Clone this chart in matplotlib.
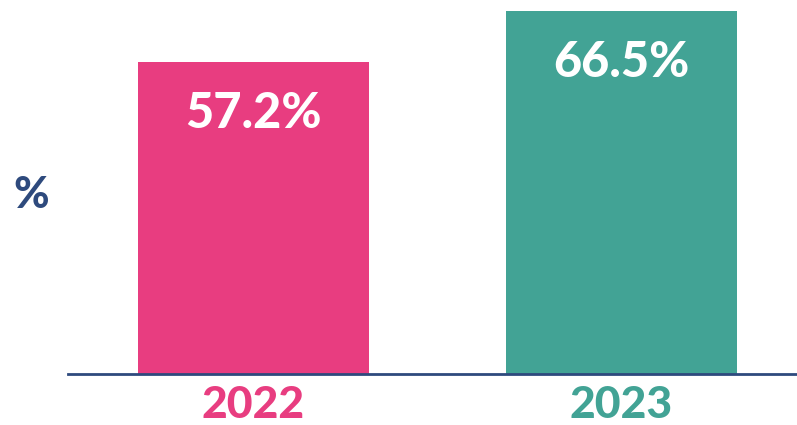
import matplotlib
matplotlib.use("Agg")
import matplotlib.pyplot as plt

categories = ["2022", "2023"]
values = [57.2, 66.5]
labels = ["57.2%", "66.5%"]
colors = ["#E83D80", "#42A395"]
navy = "#2E4A7D"

plt.rcParams['font.family'] = ['Lato', 'DejaVu Sans']

fig = plt.figure(figsize=(7.97, 4.25), dpi=100)
ax = fig.add_axes([68/797, (425-374)/425, 729/797, 374/425])
x = list(range(len(categories)))
ax.bar(x, values, width=0.628, color=colors, zorder=1)
ax.set_xlim(-0.504, 1.477)
ax.set_ylim(0, 68.6)
for s in ["top", "right", "left"]:
    ax.spines[s].set_visible(False)
ax.spines["bottom"].set_color(navy)
ax.spines["bottom"].set_linewidth(2)
ax.spines["bottom"].set_zorder(3)
ax.set_yticks([])
ax.set_xticks(x)
ax.set_xticklabels(categories, fontsize=32, fontweight="black")
ax.tick_params(axis="x", length=0, pad=8)
for t, c in zip(ax.get_xticklabels(), colors):
    t.set_color(c)
for xi, v, lab in zip(x, values, labels):
    ax.annotate(lab, (xi, v), xytext=(0, -37), textcoords="offset points",
                ha="center", va="center", color="white", fontsize=35,
                fontweight="black")
fig.text(31/797, 1 - 195/425, "%", ha="center", va="center", color=navy,
         fontsize=31, fontweight="black")
fig.savefig("out.png", dpi=100)
